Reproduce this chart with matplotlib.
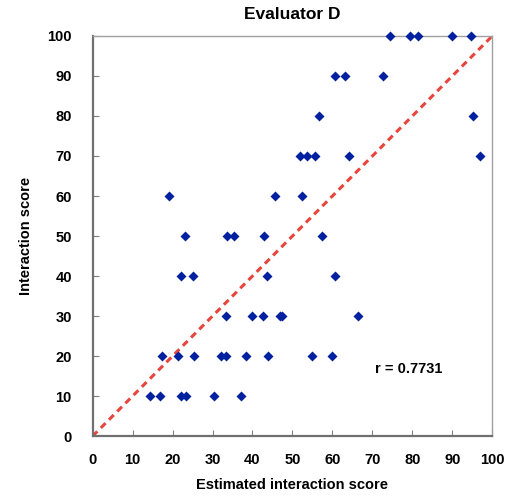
import matplotlib
matplotlib.use("Agg")
import matplotlib.pyplot as plt

plt.rcParams['font.family'] = ['Liberation Sans', 'DejaVu Sans']

estimated = [14.3, 16.8, 22.1, 23.3, 30.4, 37.2,
             17.3, 21.3, 25.4, 32.2, 33.3, 38.3, 43.9, 54.8, 60.0,
             33.3, 39.8, 42.7, 46.8, 47.3, 66.3,
             22.0, 25.2, 43.7, 60.6,
             23.0, 33.7, 35.4, 42.9, 57.4,
             19.1, 45.7, 52.4,
             52.0, 53.75, 55.6, 64.1, 96.8,
             56.6, 95.2,
             60.6, 63.2, 72.7,
             74.5, 79.5, 81.5, 90.0, 94.6]
actual = [10, 10, 10, 10, 10, 10,
          20, 20, 20, 20, 20, 20, 20, 20, 20,
          30, 30, 30, 30, 30, 30,
          40, 40, 40, 40,
          50, 50, 50, 50, 50,
          60, 60, 60,
          70, 70, 70, 70, 70,
          80, 80,
          90, 90, 90,
          100, 100, 100, 100, 100]
ticks = [0, 10, 20, 30, 40, 50, 60, 70, 80, 90, 100]
r_text = "r = 0.7731"

fig = plt.figure(figsize=(5.06, 4.99), dpi=100)
ax = fig.add_axes([0.183, 0.126, 0.790, 0.802])
ax.plot([0, 100], [0, 100], linestyle=(0, (2.2, 1.6)), color='#E8453C', linewidth=2.2, zorder=2)
ax.scatter(estimated, actual, marker='D', s=26, color='#00209F', zorder=3, clip_on=False, linewidths=0)
ax.set_xlim(0, 100)
ax.set_ylim(0, 100)
ax.set_xticks(ticks)
ax.set_yticks(ticks)
ax.tick_params(direction='in', length=4, color='#808080', labelsize=10.5)
ax.tick_params(axis='y', pad=15)
ax.tick_params(axis='x', pad=12)
for lab in ax.get_xticklabels() + ax.get_yticklabels():
    lab.set_fontweight('bold')
for s in ['left', 'bottom']:
    ax.spines[s].set_color('#707070')
    ax.spines[s].set_linewidth(1.6)
for s in ['top', 'right']:
    ax.spines[s].set_color('#a0a0a0')
    ax.spines[s].set_linewidth(1.0)
ax.set_title("Evaluator D", fontsize=12.5, fontweight='bold', pad=12)
ax.set_xlabel("Estimated interaction score", fontsize=10.5, fontweight='bold', labelpad=8)
ax.set_ylabel("Interaction score", fontsize=10.5, fontweight='bold', labelpad=10)
ax.text(70.6, 16.75, r_text, fontsize=10.5, fontweight='bold', va='center', ha='left')
fig.savefig("out.png", dpi=100)
